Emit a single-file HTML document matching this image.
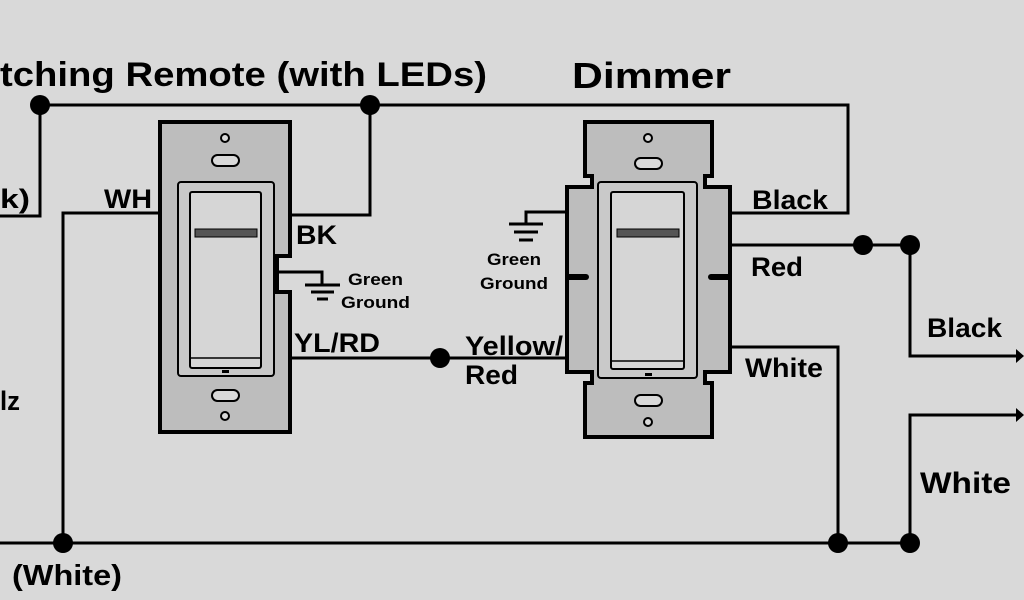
<!DOCTYPE html>
<html><head><meta charset="utf-8"><style>
html,body{margin:0;padding:0;background:#d9d9d9;}
svg{display:block;font-family:"Liberation Sans",Arial,sans-serif;font-weight:bold;}
</style></head><body>
<svg width="1024" height="600" viewBox="0 0 1024 600" xmlns="http://www.w3.org/2000/svg">
<rect width="1024" height="600" fill="#d9d9d9"/>
<text x="0" y="86" font-size="34" textLength="487" lengthAdjust="spacingAndGlyphs">tching Remote (with LEDs)</text>
<text x="572" y="88" font-size="36" textLength="159" lengthAdjust="spacingAndGlyphs">Dimmer</text>
<g stroke="#000" stroke-width="3" fill="none">
<polyline points="40,105 848,105 848,213 712,213"/>
<polyline points="40,105 40,216 0,216"/>
<polyline points="370,105 370,215 290,215"/>
<polyline points="160,213 63,213 63,543"/>
<line x1="0" y1="543" x2="910" y2="543"/>
<polyline points="712,245 910,245 910,356 1018,356"/>
<polyline points="910,543 910,415 1018,415"/>
<polyline points="712,347 838,347 838,543"/>
<line x1="290" y1="358" x2="567" y2="358"/>
<polyline points="276,272 322,272 322,285"/>
<line x1="305" y1="285" x2="340" y2="285"/>
<line x1="311" y1="292" x2="334" y2="292"/>
<line x1="317" y1="299" x2="328" y2="299"/>
<polyline points="567,212 526,212 526,224"/>
<line x1="509" y1="224" x2="543" y2="224"/>
<line x1="514" y1="232" x2="538" y2="232"/>
<line x1="519" y1="240" x2="533" y2="240"/>
</g>
<polygon points="1016,349 1024,356 1016,363" fill="#000"/>
<polygon points="1016,408 1024,415 1016,422" fill="#000"/>
<g fill="#000">
<circle cx="40" cy="105" r="10"/><circle cx="370" cy="105" r="10"/>
<circle cx="63" cy="543" r="10"/><circle cx="838" cy="543" r="10"/><circle cx="910" cy="543" r="10"/>
<circle cx="863" cy="245" r="10"/><circle cx="910" cy="245" r="10"/>
<circle cx="440" cy="358" r="10"/>
</g>
<path d="M160,122 H290 V256 H277 V292 H290 V432 H160 Z" fill="#bdbdbd" stroke="#000" stroke-width="4"/>
<circle cx="225" cy="138" r="4" fill="#d9d9d9" stroke="#000" stroke-width="2"/>
<rect x="212" y="155" width="27" height="11" rx="5.5" fill="#d9d9d9" stroke="#000" stroke-width="2"/>
<rect x="212" y="390" width="27" height="11" rx="5.5" fill="#d9d9d9" stroke="#000" stroke-width="2"/>
<circle cx="225" cy="416" r="4" fill="#d9d9d9" stroke="#000" stroke-width="2"/>
<rect x="178" y="182" width="96" height="194" rx="3" fill="#c9c9c9" stroke="#000" stroke-width="2"/>
<rect x="190" y="192" width="71" height="176" rx="2" fill="#d6d6d6" stroke="#000" stroke-width="2"/>
<line x1="190" y1="358" x2="261" y2="358" stroke="#000" stroke-width="1.5"/>
<rect x="195" y="229" width="62" height="8" fill="#555" stroke="#000" stroke-width="1"/>
<rect x="222" y="370" width="7" height="3" fill="#000"/>
<path d="M585,122 H712 V176 H705 V187 H730 V372 H705 V383 H712 V437 H585 V383 H592 V372 H567 V187 H592 V176 H585 Z" fill="#bdbdbd" stroke="#000" stroke-width="4"/>
<path d="M569,274 H586 a3,3 0 0 1 0,6 H569 Z" fill="#000"/>
<path d="M728,274 H711 a3,3 0 0 0 0,6 H728 Z" fill="#000"/>
<circle cx="648" cy="138" r="4" fill="#d9d9d9" stroke="#000" stroke-width="2"/>
<rect x="635" y="158" width="27" height="11" rx="5.5" fill="#d9d9d9" stroke="#000" stroke-width="2"/>
<rect x="635" y="395" width="27" height="11" rx="5.5" fill="#d9d9d9" stroke="#000" stroke-width="2"/>
<circle cx="648" cy="422" r="4" fill="#d9d9d9" stroke="#000" stroke-width="2"/>
<rect x="598" y="182" width="99" height="196" rx="3" fill="#c9c9c9" stroke="#000" stroke-width="2"/>
<rect x="611" y="192" width="73" height="177" rx="2" fill="#d6d6d6" stroke="#000" stroke-width="2"/>
<line x1="611" y1="361" x2="684" y2="361" stroke="#000" stroke-width="1.5"/>
<rect x="617" y="229" width="62" height="8" fill="#555" stroke="#000" stroke-width="1"/>
<rect x="645" y="373" width="7" height="3" fill="#000"/>
<g font-size="27">
<text x="0" y="208" textLength="30" lengthAdjust="spacingAndGlyphs">k)</text>
<text x="0" y="410" textLength="20" lengthAdjust="spacingAndGlyphs">lz</text>
<text x="12" y="585" textLength="110" lengthAdjust="spacingAndGlyphs" font-size="29">(White)</text>
<text x="104" y="208" textLength="48" lengthAdjust="spacingAndGlyphs">WH</text>
<text x="296" y="244" textLength="41" lengthAdjust="spacingAndGlyphs">BK</text>
<text x="294" y="352" textLength="86" lengthAdjust="spacingAndGlyphs">YL/RD</text>
<text x="465" y="355" textLength="98" lengthAdjust="spacingAndGlyphs">Yellow/</text>
<text x="465" y="384" textLength="53" lengthAdjust="spacingAndGlyphs">Red</text>
<text x="752" y="209" textLength="76" lengthAdjust="spacingAndGlyphs">Black</text>
<text x="751" y="276" textLength="52" lengthAdjust="spacingAndGlyphs">Red</text>
<text x="745" y="377" textLength="78" lengthAdjust="spacingAndGlyphs">White</text>
<text x="927" y="337" textLength="75" lengthAdjust="spacingAndGlyphs">Black</text>
<text x="920" y="493" textLength="91" lengthAdjust="spacingAndGlyphs" font-size="30">White</text>
</g>
<g font-size="17">
<text x="348" y="285" textLength="55" lengthAdjust="spacingAndGlyphs">Green</text>
<text x="341" y="308" textLength="69" lengthAdjust="spacingAndGlyphs">Ground</text>
<text x="487" y="265" textLength="54" lengthAdjust="spacingAndGlyphs">Green</text>
<text x="480" y="289" textLength="68" lengthAdjust="spacingAndGlyphs">Ground</text>
</g>
</svg>
</body></html>
